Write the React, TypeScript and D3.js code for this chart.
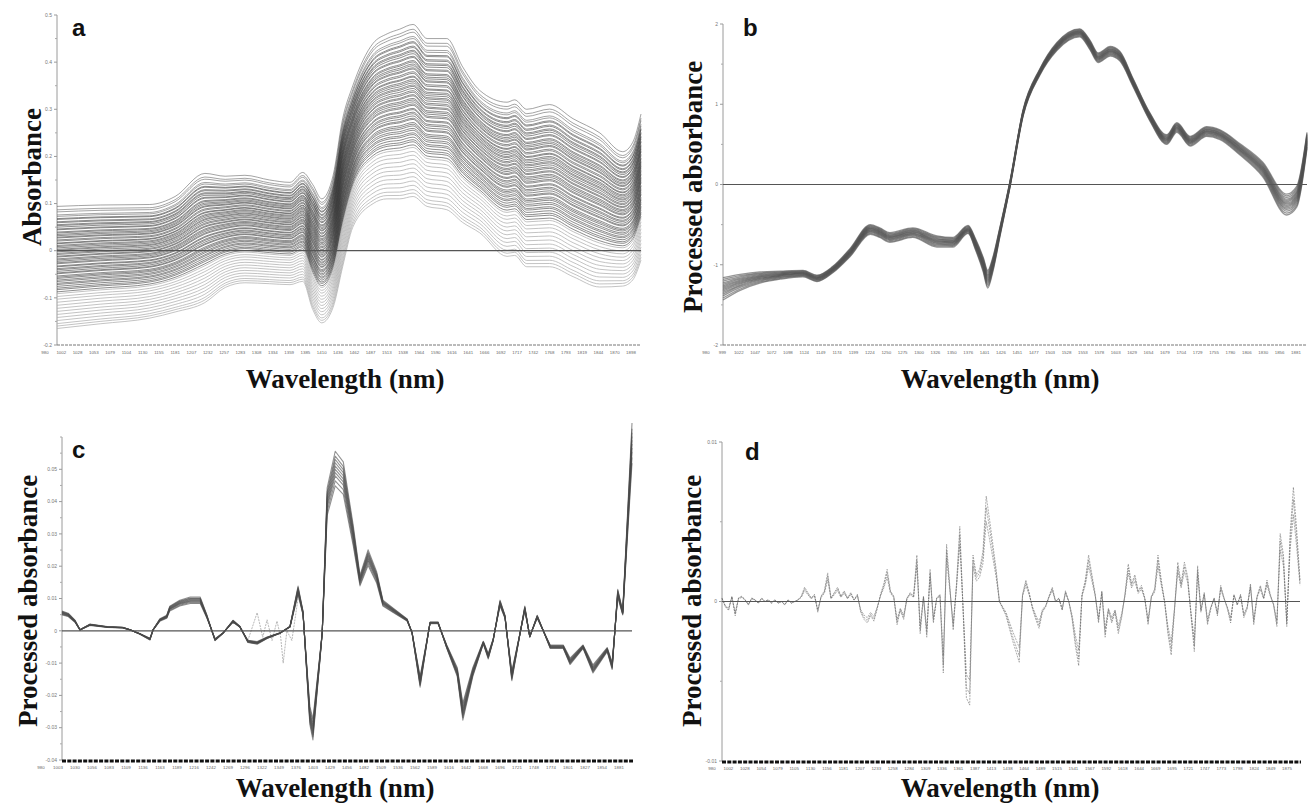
import * as d3 from "d3";

const W = 1310;
const H = 805;

// ---- panel a : raw absorbance, read as upper / lower envelope of the sample set
const nmA = [980, 1048, 1126, 1166, 1213, 1245, 1276, 1315, 1347, 1367, 1383, 1397, 1415, 1430, 1446, 1478, 1500, 1520, 1541, 1563, 1594, 1619, 1646, 1689, 1701, 1720, 1756, 1793, 1835, 1871, 1887, 1900];
const upperA = [0.094, 0.097, 0.098, 0.115, 0.164, 0.158, 0.16, 0.15, 0.145, 0.166, 0.14, 0.11, 0.16, 0.28, 0.35, 0.44, 0.46, 0.47, 0.48, 0.45, 0.45, 0.39, 0.34, 0.315, 0.32, 0.3, 0.31, 0.28, 0.25, 0.21, 0.23, 0.29];
const lowerA = [-0.165, -0.155, -0.143, -0.13, -0.11, -0.078, -0.068, -0.07, -0.072, -0.065, -0.125, -0.153, -0.12, -0.034, 0.05, 0.1, 0.11, 0.11, 0.115, 0.094, 0.087, 0.06, 0.038, -0.012, -0.01, -0.034, -0.034, -0.055, -0.077, -0.075, -0.062, -0.02];
// position of each sample between the two envelopes (0 = lowest, 1 = highest)
const mixA = [1.0, 0.972, 0.955, 0.93, 0.918, 0.9, 0.893, 0.874, 0.866, 0.85, 0.842, 0.83, 0.815, 0.808, 0.79, 0.782, 0.77, 0.76, 0.748, 0.741, 0.725, 0.716, 0.7, 0.694, 0.68, 0.671, 0.66, 0.648, 0.64, 0.628, 0.615, 0.606, 0.592, 0.585, 0.57, 0.561, 0.55, 0.538, 0.53, 0.512, 0.505, 0.49, 0.481, 0.468, 0.455, 0.448, 0.43, 0.42, 0.41, 0.396, 0.385, 0.37, 0.36, 0.345, 0.33, 0.318, 0.3, 0.285, 0.262, 0.24, 0.215, 0.19, 0.165, 0.14, 0.115, 0.09, 0.065, 0.04, 0.02, 0.0];

// ---- panel b : SNV processed, mean curve and half-spread
const nmB = [980, 1007, 1038, 1070, 1106, 1128, 1153, 1180, 1212, 1227, 1243, 1279, 1317, 1342, 1366, 1378, 1390, 1397, 1405, 1416, 1432, 1453, 1479, 1506, 1542, 1558, 1571, 1590, 1605, 1626, 1652, 1679, 1695, 1716, 1742, 1763, 1794, 1830, 1868, 1884, 1900];
const meanB = [-1.3, -1.22, -1.16, -1.13, -1.11, -1.17, -1.06, -0.85, -0.56, -0.6, -0.66, -0.6, -0.71, -0.72, -0.56, -0.75, -1.0, -1.18, -1.0, -0.6, 0.0, 0.9, 1.4, 1.72, 1.89, 1.74, 1.58, 1.66, 1.6, 1.27, 0.85, 0.56, 0.71, 0.54, 0.66, 0.62, 0.44, 0.19, -0.25, -0.15, 0.55];
const spreadB = [0.14, 0.1, 0.07, 0.05, 0.04, 0.04, 0.04, 0.05, 0.06, 0.06, 0.06, 0.06, 0.07, 0.06, 0.05, 0.07, 0.09, 0.11, 0.09, 0.06, 0.04, 0.04, 0.04, 0.05, 0.05, 0.06, 0.06, 0.06, 0.06, 0.05, 0.05, 0.06, 0.06, 0.06, 0.06, 0.06, 0.07, 0.09, 0.13, 0.13, 0.1];
const mixB = [-1, -0.82, -0.63, -0.47, -0.33, -0.2, -0.08, 0.04, 0.15, 0.27, 0.4, 0.52, 0.68, 0.84, 1];

// ---- panel c : first derivative
const nmC = [980, 990, 1001, 1009, 1025, 1053, 1078, 1090, 1106, 1122, 1127, 1138, 1149, 1154, 1170, 1187, 1203, 1214, 1227, 1240, 1256, 1267, 1280, 1295, 1311, 1332, 1348, 1361, 1369, 1380, 1385, 1396, 1400, 1408, 1421, 1434, 1450, 1461, 1474, 1488, 1498, 1514, 1537, 1545, 1558, 1574, 1587, 1601, 1618, 1627, 1643, 1660, 1668, 1676, 1687, 1695, 1706, 1727, 1735, 1747, 1768, 1789, 1800, 1821, 1837, 1860, 1868, 1877, 1885, 1900];
const meanC = [0.0056, 0.005, 0.003, 0.0003, 0.0019, 0.0012, 0.001, 0.0003, -0.001, -0.0026, 0.0003, 0.0034, 0.0044, 0.007, 0.0087, 0.0096, 0.0096, 0.0044, -0.0028, -0.0007, 0.003, 0.0013, -0.0033, -0.0038, -0.0022, -0.0007, 0.0013, 0.0127, 0.0056, -0.0266, -0.031, -0.009, -0.0006, 0.0406, 0.051, 0.048, 0.03, 0.0158, 0.023, 0.0167, 0.0087, 0.0065, 0.0034, -0.0006, -0.016, 0.0025, 0.0025, -0.005, -0.013, -0.0254, -0.013, -0.0037, -0.008, -0.0028, 0.0087, 0.0044, -0.0142, 0.007, -0.0018, 0.0044, -0.005, -0.005, -0.0096, -0.005, -0.012, -0.0059, -0.011, 0.0118, 0.0056, 0.059];
const gainC = [0.88, 0.91, 0.94, 0.96, 0.98, 1.0, 1.02, 1.04, 1.06, 1.09];
// one noisy sample visible as light dashed spikes around 1300 nm
const nmNoiseC = [1280, 1295, 1304, 1311, 1319, 1327, 1333, 1337, 1343, 1351, 1361];
const noiseC = [-0.003, 0.0056, -0.002, 0.0034, -0.003, 0.003, -0.002, -0.01, 0.0, -0.003, 0.01];

// ---- panel d : second derivative (values x 1e-3, even wavelength steps 980..1900)
const valuesD = [
  0.2, -0.3, -0.5, 0.3, -0.8, 0.2, 0.3, 0.1, -0.2, 0.2, 0.1, -0.1, 0.2, 0.0, 0.1, -0.1, 0.1, -0.1, 0.0, -0.2, 0.1, -0.1, 0.0, 0.1,
  0.3, 0.8, 0.5, 0.2, 0.4, -0.6, 0.3, 0.6, 1.6, 0.2, 0.5, 0.8, 0.3, 0.6, 0.2, 0.5, 0.1, 0.4,
  -0.6, -1.0, -1.2, -0.8, -1.1, -0.4,
  0.4, 1.0, 1.8, 0.6, 0.3, -1.3,
  -0.5, -1.0, 0.2, 0.5, 0.3,
  2.6, -1.8, 0.3, -2.0, 1.8, -1.2, 0.2, 0.4, -4.0, 3.2, 0.8, -1.6, 1.0, 4.2, -0.5, -5.4, -5.8, 2.6, 1.5, 1.8,
  2.8, 5.9, 4.6, 3.2, 1.8, 0.0, -0.4, -0.8, -1.5, -2.2, -2.8, -3.4,
  0.4, 1.2, 0.5, -0.4, -1.0, -1.5, -0.6, -0.3, 0.3, 0.8, 0.0, 0.2, -0.5, 0.6, 0.0, -1.0, -2.5, -3.6, 0.4, 1.2,
  2.6, 1.5, 0.4, -1.2, 0.6, -2.0, -0.5, -1.2, -0.6, -1.8, -0.9, 0.4, 2.1, 1.0, 1.5, 0.6, 0.9, 0.2, -1.3, 0.3,
  0.7, 2.6, 1.2, 0.0, -1.8, -3.0, -0.5, 2.2, 1.0, 2.2, 1.4, -0.8, -2.8, 2.0, -0.6, 0.5, -1.3, -0.4, 0.2, -0.8,
  0.9, 0.2, -0.4, -1.2, 0.4, -0.2, 0.4, -0.9, -0.4, 1.0, -1.3, 0.3, 0.9, 0.2, 1.2, 0.4, -0.2, -1.4, 3.8, 2.6,
  -1.4, 3.8, 6.4, 4.0, 1.2,
];
const gainD = [0.85, 1.0, 1.12];

// ---- tick labels
const labelsA = ["980", "1002", "1028", "1053", "1079", "1104", "1130", "1155", "1181", "1207", "1232", "1257", "1283", "1308", "1334", "1359", "1385", "1410", "1436", "1462", "1487", "1513", "1538", "1564", "1590", "1616", "1641", "1666", "1692", "1717", "1742", "1768", "1793", "1819", "1844", "1870", "1898"];
const labelsB = ["980", "999", "1022", "1047", "1072", "1098", "1124", "1149", "1174", "1199", "1224", "1250", "1275", "1300", "1326", "1350", "1376", "1401", "1426", "1451", "1477", "1503", "1528", "1553", "1578", "1603", "1629", "1654", "1679", "1704", "1729", "1755", "1780", "1806", "1830", "1856", "1881"];
const labelsC = ["980", "1003", "1030", "1056", "1083", "1109", "1136", "1163", "1189", "1216", "1242", "1269", "1296", "1322", "1349", "1376", "1403", "1429", "1456", "1482", "1509", "1536", "1562", "1589", "1616", "1642", "1668", "1696", "1721", "1748", "1774", "1801", "1827", "1854", "1881"];
const labelsD = ["980", "1002", "1028", "1054", "1079", "1105", "1130", "1156", "1181", "1207", "1233", "1258", "1284", "1309", "1336", "1361", "1387", "1413", "1438", "1464", "1489", "1515", "1541", "1567", "1592", "1618", "1644", "1669", "1695", "1721", "1747", "1773", "1798", "1824", "1849", "1875"];

const yTicksA = [0.5, 0.4, 0.3, 0.2, 0.1, 0, -0.1, -0.2];
const yTicksB = [2, 1, 0, -1, -2];
const yTicksC = [0.05, 0.04, 0.03, 0.02, 0.01, 0, -0.01, -0.02, -0.03, -0.04];
const yTicksD = [0.01, 0, -0.01];

type Pt = [number, number];
type Curve = { pts: Pt[]; color: string; width: number; opacity: number; dash?: string };

const SERIF = "'Liberation Serif', 'Times New Roman', serif";
const SANS = "'Liberation Sans', Arial, sans-serif";

function Panel(props: {
  letter: string;
  letterPos: Pt;
  left: number;
  right: number;
  top: number;
  bottom: number;
  yDomain: [number, number];
  yTicks: number[];
  yMinor: number[];
  yTitle: string;
  yTitlePos: Pt;
  xLabels: string[];
  xLabelRange: [number, number];
  xTitlePos: Pt;
  curves: Curve[];
  heavy: boolean;
  smooth: boolean;
  zeroRight: number;
}) {
  const { left, right, top, bottom } = props;
  const x = d3.scaleLinear().domain([980, 1900]).range([left, right]);
  const y = d3.scaleLinear().domain(props.yDomain).range([bottom, top]);
  const xl = d3.scalePoint<string>().domain(props.xLabels).range(props.xLabelRange);
  const line = d3
    .line<Pt>()
    .x((d) => x(d[0]))
    .y((d) => y(d[1]))
    .curve(props.smooth ? d3.curveMonotoneX : d3.curveLinear);

  return (
    <g>
      {/* y axis */}
      <line x1={left} x2={left} y1={top} y2={bottom} stroke="#9a9a9a" strokeWidth={1} />
      {props.yTicks.map((t) => (
        <g key={"yt" + t} transform={`translate(${left},${y(t)})`}>
          <line x1={-3} x2={0} stroke="#9a9a9a" />
          <text x={-5} dy="0.35em" textAnchor="end" fontSize={5} fill="#777" fontFamily={SANS}>
            {t}
          </text>
        </g>
      ))}
      {props.yMinor.map((t) => (
        <line key={"ym" + t} x1={left - 2} x2={left} y1={y(t)} y2={y(t)} stroke="#aaa" />
      ))}

      {/* spectra */}
      {props.curves.map((c, i) => (
        <path
          key={i}
          d={line(c.pts) || ""}
          fill="none"
          stroke={c.color}
          strokeWidth={c.width}
          strokeOpacity={c.opacity}
          strokeDasharray={c.dash}
          strokeLinejoin="round"
        />
      ))}

      {/* zero line */}
      <line x1={left} x2={props.zeroRight} y1={y(0)} y2={y(0)} stroke="#555" strokeWidth={1.2} />

      {/* x axis */}
      {props.heavy ? (
        <line x1={left} x2={right + 1} y1={bottom + 1} y2={bottom + 1} stroke="#111" strokeWidth={3} strokeDasharray="4 1.3" />
      ) : (
        <line x1={left} x2={right} y1={bottom} y2={bottom} stroke="#777" strokeWidth={1} strokeDasharray="3 1" />
      )}
      {props.xLabels.map((l) => (
        <text
          key={"xl" + l}
          x={xl(l)}
          y={bottom + 9}
          textAnchor="middle"
          fontSize={4.4}
          fill="#666"
          fontFamily={SANS}
        >
          {l}
        </text>
      ))}

      {/* titles */}
      <text
        x={props.xTitlePos[0]}
        y={props.xTitlePos[1]}
        textAnchor="middle"
        fontFamily={SERIF}
        fontWeight="bold"
        fontSize={27}
        fill="#111"
      >
        Wavelength (nm)
      </text>
      <text
        transform={`translate(${props.yTitlePos[0]},${props.yTitlePos[1]}) rotate(-90)`}
        textAnchor="middle"
        fontFamily={SERIF}
        fontWeight="bold"
        fontSize={27}
        fill="#111"
      >
        {props.yTitle}
      </text>
      <text x={props.letterPos[0]} y={props.letterPos[1]} fontFamily={SANS} fontWeight="bold" fontSize={24} fill="#111">
        {props.letter}
      </text>
    </g>
  );
}

export default function App() {
  // panel a curves: each sample sits between the two envelopes
  const curvesA: Curve[] = mixA.map((w) => ({
    pts: nmA.map((nm, i) => [nm, lowerA[i] + w * (upperA[i] - lowerA[i])] as Pt),
    color: w < 0.3 ? "#b0b0b0" : w > 0.9 ? "#5a5a5a" : "#303030",
    width: 0.9,
    opacity: w < 0.3 ? 0.85 : 0.62,
  }));

  const curvesB: Curve[] = mixB.map((w) => ({
    pts: nmB.map((nm, i) => [nm, meanB[i] + w * spreadB[i]] as Pt),
    color: "#505050",
    width: 1.3,
    opacity: 0.6,
  }));

  const curvesC: Curve[] = [
    {
      pts: nmNoiseC.map((nm, i) => [nm, noiseC[i]] as Pt),
      color: "#999",
      width: 0.9,
      opacity: 0.8,
      dash: "2 1",
    },
    ...gainC.map((g) => ({
      pts: nmC.map((nm, i) => [nm, meanC[i] * g] as Pt),
      color: "#4a4a4a",
      width: 1.1,
      opacity: 0.6,
    })),
  ];

  const stepD = 920 / (valuesD.length - 1);
  const curvesD: Curve[] = gainD.map((g) => ({
    pts: valuesD.map((v, i) => [980 + i * stepD, (v * g) / 1000] as Pt),
    color: "#666",
    width: 0.9,
    opacity: 0.6,
    dash: "2 1",
  }));

  return (
    <svg
      width={W}
      height={H}
      style={{ position: "absolute", left: 0, top: 0, background: "#fff" }}
    >
      <Panel
        letter="a"
        letterPos={[72, 36]}
        left={57}
        right={641}
        top={15}
        bottom={345}
        yDomain={[-0.2, 0.5]}
        yTicks={yTicksA}
        yMinor={[0.45, 0.35, 0.25, 0.15, 0.05, -0.05, -0.15]}
        yTitle="Absorbance"
        yTitlePos={[41, 177]}
        xLabels={labelsA}
        xLabelRange={[45, 631]}
        xTitlePos={[345, 388]}
        curves={curvesA}
        heavy={false}
        smooth={true}
        zeroRight={641}
      />
      <Panel
        letter="b"
        letterPos={[743, 36]}
        left={723}
        right={1307}
        top={24}
        bottom={345}
        yDomain={[-2, 2]}
        yTicks={yTicksB}
        yMinor={[1.5, 0.5, -0.5, -1.5]}
        yTitle="Processed absorbance"
        yTitlePos={[702, 187]}
        xLabels={labelsB}
        xLabelRange={[706, 1296]}
        xTitlePos={[1000, 388]}
        curves={curvesB}
        heavy={false}
        smooth={true}
        zeroRight={1307}
      />
      <Panel
        letter="c"
        letterPos={[72, 458]}
        left={62}
        right={632}
        top={437}
        bottom={760}
        yDomain={[-0.04, 0.06]}
        yTicks={yTicksC}
        yMinor={[0.06, 0.055, 0.045, 0.035, 0.025, 0.015, 0.005, -0.005, -0.015, -0.025, -0.035]}
        yTitle="Processed absorbance"
        yTitlePos={[37, 601]}
        xLabels={labelsC}
        xLabelRange={[41, 619]}
        xTitlePos={[335, 797]}
        curves={curvesC}
        heavy={true}
        smooth={false}
        zeroRight={632}
      />
      <Panel
        letter="d"
        letterPos={[745, 460]}
        left={722}
        right={1300}
        top={442}
        bottom={761}
        yDomain={[-0.01, 0.01]}
        yTicks={yTicksD}
        yMinor={[0.005, -0.005]}
        yTitle="Processed absorbance"
        yTitlePos={[701, 601]}
        xLabels={labelsD}
        xLabelRange={[712, 1287]}
        xTitlePos={[1000, 797]}
        curves={curvesD}
        heavy={true}
        smooth={false}
        zeroRight={1300}
      />
    </svg>
  );
}
